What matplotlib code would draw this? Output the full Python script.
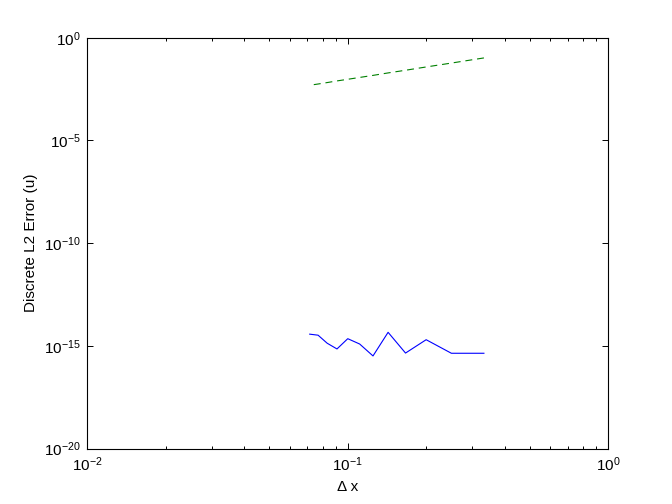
import numpy as np
import matplotlib
matplotlib.use("Agg")
import matplotlib.pyplot as plt
from matplotlib.ticker import LogLocator, NullLocator

# grid sizes N, step is dx = 1/N
n_points = [3, 4, 5, 6, 7, 8, 9, 10, 11, 12, 13, 14]
dx = [1.0 / n for n in n_points]

# log10 of discrete L2 error
log_err_exact = [-15.36, -15.36, -14.70, -15.35, -14.34, -15.49,
                 -14.91, -14.65, -15.15, -14.87, -14.48, -14.43]
log_err_approx = [-0.98, -1.23, -1.42, -1.58, -1.71, -1.83,
                  -1.93, -2.02, -2.10, -2.18, -2.25, -2.31]

err_exact = [10.0 ** v for v in log_err_exact]
err_approx = [10.0 ** v for v in log_err_approx]

plt.rcParams['font.family'] = ['Liberation Sans', 'DejaVu Sans']
plt.rcParams['mathtext.default'] = 'regular'
plt.rcParams['lines.scale_dashes'] = False

fig = plt.figure(figsize=(6.72, 5.04), dpi=100)
ax = fig.add_axes([0.13, 0.11, 0.775, 0.815])

ax.loglog(dx, err_exact, color='#0000ff', linewidth=0.8)
ax.loglog(dx, err_approx, color='#008000', linewidth=0.8, linestyle=(0, (5, 3.5)))

ax.set_xlim(1e-2, 1e0)
ax.set_ylim(1e-20, 1e0)
ax.set_yticks([1e-20, 1e-15, 1e-10, 1e-5, 1e0])
ax.yaxis.set_minor_locator(NullLocator())
ax.xaxis.set_major_locator(LogLocator(base=10, numticks=5))
ax.xaxis.set_minor_locator(LogLocator(base=10, subs=np.arange(2, 10), numticks=20))

ax.tick_params(which='both', direction='in', top=True, right=True,
               labelsize=11, width=0.7, colors='black')
ax.tick_params(which='major', length=4.5, pad=5)
ax.tick_params(which='minor', length=2.5)
for s in ax.spines.values():
    s.set_linewidth(0.8)

ax.set_xlabel(r'Δ x', fontsize=11)
ax.set_ylabel('Discrete L2 Error (u)', fontsize=11)

fig.savefig('out.png', dpi=100)
